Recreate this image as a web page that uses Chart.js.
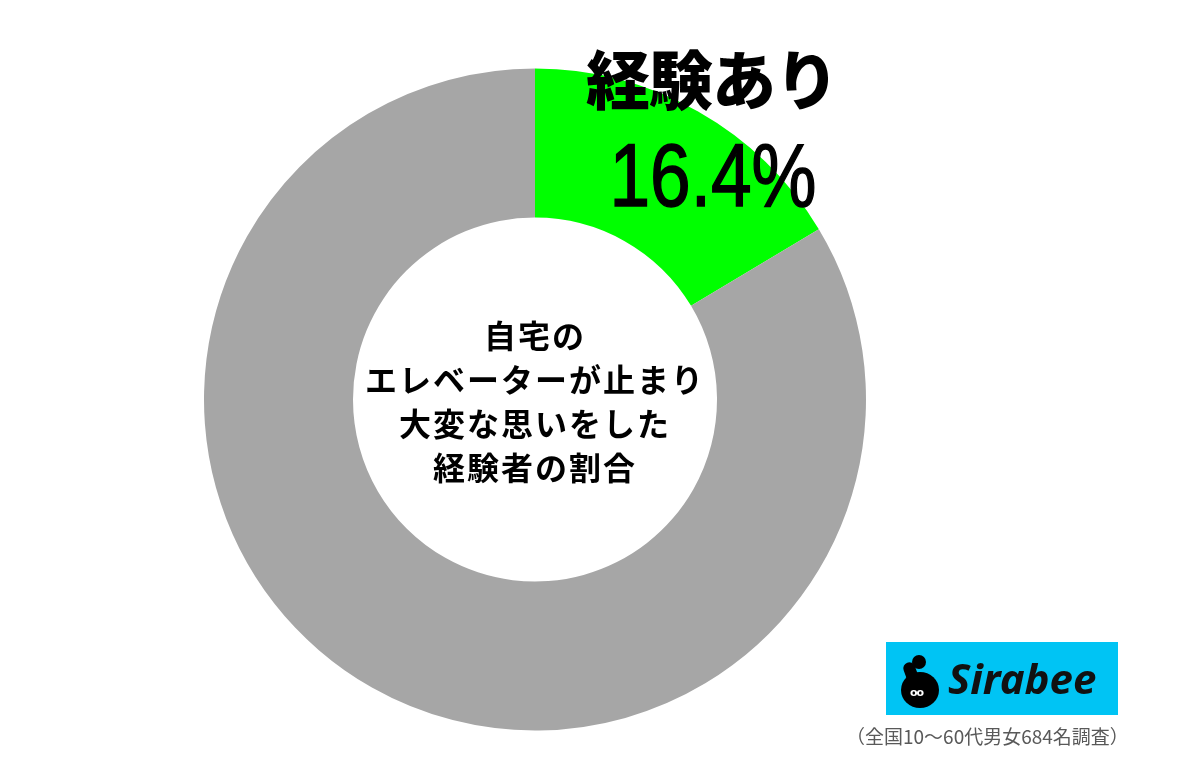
<!DOCTYPE html>
<html lang="ja">
<head>
<meta charset="utf-8">
<script src="https://cdn.jsdelivr.net/npm/chart.js@4.4.0/dist/chart.umd.min.js"></script>
<style>
  body { margin: 0; background: #fff; }
  #wrap { position: relative; width: 1200px; height: 762px; overflow: hidden; }
  #myChart { position: absolute; left: 0; top: 0; }
  .lbl { position: absolute; color: #000; white-space: nowrap; text-align: center; }
  #catLabel { left: 562px; width: 300px; top: 44px; font: 900 64px "Noto Sans CJK JP"; line-height: 64px; letter-spacing: -1px; }
  #pctLabel { left: 563px; width: 300px; top: 131px; font: 400 89px "Liberation Sans"; line-height: 89px; transform: scaleX(0.82); -webkit-text-stroke: 1.5px #000; }
  #centerText { left: 333px; width: 400px; top: 312px; font: 700 32px "Noto Sans CJK JP"; line-height: 44px; letter-spacing: 2px; padding-left: 2px; }
  #logo { position: absolute; left: 886px; top: 642px; width: 232px; height: 73px; background: #00c4f4; }
  #logo .head { position: absolute; left: 26px; top: 13px; width: 14px; height: 14px; border-radius: 50%; background: #000; }
  #logo .stem { position: absolute; left: 19px; top: 20px; width: 12px; height: 22px; background: #000; border-radius: 6px; transform: rotate(-20deg); }
  #logo .body { position: absolute; left: 15px; top: 30px; width: 38px; height: 36px; border-radius: 50%; background: #000; }
  #logo .eyes { position: absolute; left: 24px; top: 44px; font: 700 11px "DejaVu Sans"; color: #fff; letter-spacing: -1px; }
  #logo .name { position: absolute; left: 62px; top: 10px; font: italic 700 42px "Noto Sans"; color: #111; line-height: 52px; }
  #note { left: 846px; top: 724px; font: 400 19px "Noto Sans CJK JP"; color: #595959; line-height: 24px; text-align: left; }
</style>
</head>
<body>
<div id="wrap">
  <canvas id="myChart" width="1200" height="762"></canvas>
  <div class="lbl" id="catLabel"></div>
  <div class="lbl" id="pctLabel"></div>
  <div class="lbl" id="centerText"></div>
  <div id="logo">
    <div class="stem"></div><div class="head"></div><div class="body"></div>
    <div class="eyes">oo</div>
    <div class="name">Sirabee</div>
  </div>
  <div class="lbl" id="note">（全国10〜60代男女684名調査）</div>
</div>
<script>
// data
var categories = ['経験あり', '経験なし'];
var values = [16.4, 83.6];
var titleLines = ['自宅の', 'エレベーターが止まり', '大変な思いをした', '経験者の割合'];

// label teks
document.getElementById('catLabel').textContent = categories[0];
var pct = document.getElementById('pctLabel');
pct.textContent = values[0].toFixed(1) + '%';
document.getElementById('centerText').innerHTML = titleLines.join('<br>');

// pakai Liberation Sans Narrow kalau ada
var m = document.createElement('canvas').getContext('2d');
m.font = '89px "Liberation Sans Narrow", monospace';
var wNarrow = m.measureText('16.4%').width;
m.font = '89px monospace';
if (Math.abs(wNarrow - m.measureText('16.4%').width) > 1) {
    pct.style.fontFamily = '"Liberation Sans Narrow"';
    pct.style.transform = 'none';
    pct.style.webkitTextStroke = '0.8px #000';
}

var ctx = document.getElementById('myChart');
var donut = new Chart(ctx, {
    type: 'doughnut',
    data: {
        labels: categories,
        datasets: [{
            data: values,
            backgroundColor: ['#00ff00', '#a6a6a6'],
            borderWidth: 0,
            hoverOffset: 0
        }]
    },
    options: {
        responsive: false,
        animation: false,
        events: [],
        rotation: 0,
        radius: 331,
        cutout: 182,
        layout: {
            padding: { left: 0, right: 130, top: 68.5, bottom: 31.5 }
        },
        plugins: {
            legend: { display: false },
            tooltip: { enabled: false }
        }
    }
});
</script>
</body>
</html>
